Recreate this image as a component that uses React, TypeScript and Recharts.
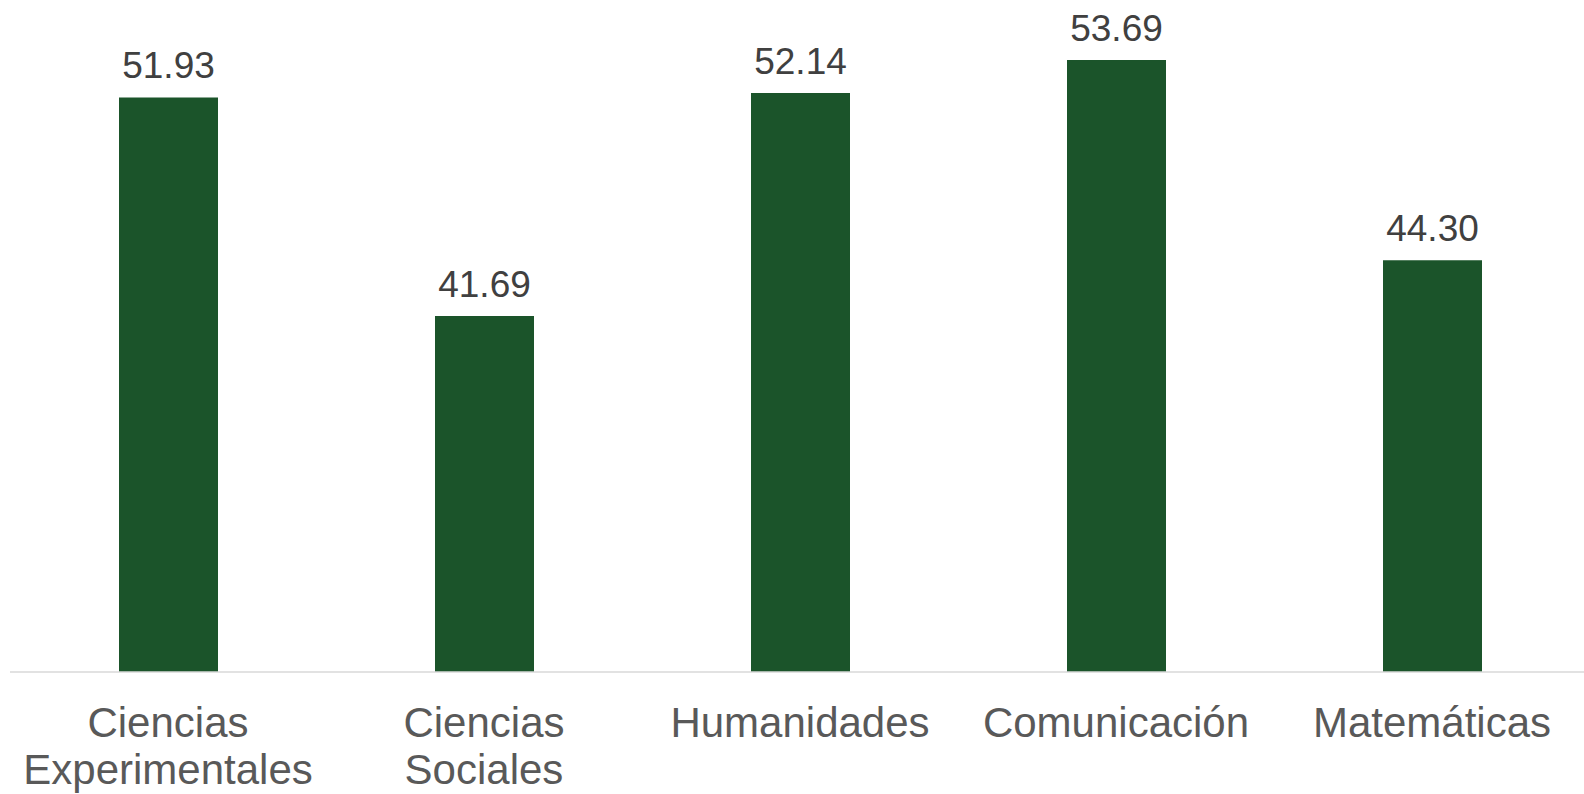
import React from 'react';
import { BarChart, Bar, XAxis, YAxis, LabelList } from 'recharts';

const categories = ['Ciencias\nExperimentales', 'Ciencias\nSociales', 'Humanidades', 'Comunicación', 'Matemáticas'];
const values = [51.93, 41.69, 52.14, 53.69, 44.3];

const data = categories.map((c, i) => ({ name: c, value: values[i] }));

const FONT = '"Liberation Sans", Arial, Helvetica, sans-serif';

const CategoryTick = (props: any) => {
  const { x, y, payload } = props;
  const lines = String(payload.value).split('\n');
  return (
    <text x={x} y={y} textAnchor="middle" fill="#595959" fontSize={42} fontFamily={FONT}>
      {lines.map((l, i) => (
        <tspan key={i} x={x} dy={i === 0 ? 57 : 47}>
          {l}
        </tspan>
      ))}
    </text>
  );
};

export default function App() {
  return (
    <div style={{ position: 'absolute', left: 0, top: 0, width: 1584, height: 794, overflow: 'hidden', background: '#fff' }}>
      <BarChart
        width={1600}
        height={794}
        data={data}
        margin={{ top: 32, right: 10, bottom: 0, left: 10 }}
        barCategoryGap={0}
      >
        <XAxis
          dataKey="name"
          interval={0}
          height={122}
          tickLine={false}
          axisLine={{ stroke: '#d9d9d9', strokeWidth: 1.5 }}
          tick={<CategoryTick />}
        />
        <YAxis hide domain={[25, 55]} allowDataOverflow />
        <Bar dataKey="value" fill="#1b542a" barSize={99} isAnimationActive={false}>
          <LabelList
            dataKey="value"
            position="top"
            offset={19}
            formatter={(v: any) => Number(v).toFixed(2)}
            style={{ fill: '#404040', fontSize: 37, fontFamily: FONT }}
          />
        </Bar>
      </BarChart>
    </div>
  );
}
